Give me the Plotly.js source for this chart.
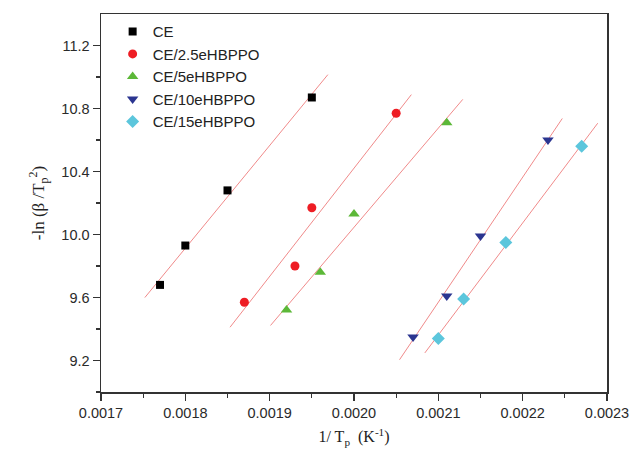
<!DOCTYPE html>
<html>
<head>
<meta charset="utf-8">
<script src="https://cdn.plot.ly/plotly-3.0.1.min.js"></script>
<style>html,body{margin:0;padding:0;background:#fff;}#chart{width:632px;height:455px;}</style>
</head>
<body>
<div id="chart"></div>
<script>
// Data
const seriesNames = ["CE", "CE/2.5eHBPPO", "CE/5eHBPPO", "CE/10eHBPPO", "CE/15eHBPPO"];
const xCE   = [0.00177, 0.00180, 0.00185, 0.00195];
const yCE   = [9.68, 9.93, 10.28, 10.87];
const xCE25 = [0.00187, 0.00193, 0.00195, 0.00205];
const yCE25 = [9.57, 9.80, 10.17, 10.77];
const xCE5  = [0.00192, 0.00196, 0.00200, 0.00211];
const yCE5  = [9.52, 9.76, 10.13, 10.71];
const xCE10 = [0.00207, 0.00211, 0.00215, 0.00223];
const yCE10 = [9.35, 9.61, 9.99, 10.60];
const xCE15 = [0.00210, 0.00213, 0.00218, 0.00227];
const yCE15 = [9.34, 9.59, 9.95, 10.56];
// x extents of the drawn linear-fit lines
const fitStart = [0.001752, 0.001853, 0.001901, 0.002054, 0.002084];
const fitEnd   = [0.001969, 0.002068, 0.002129, 0.002247, 0.002289];
const xTickVals = [0.0017, 0.0018, 0.0019, 0.0020, 0.0021, 0.0022, 0.0023];
const xTickText = ["0.0017", "0.0018", "0.0019", "0.0020", "0.0021", "0.0022", "0.0023"];
const yTickVals = [9.2, 9.6, 10.0, 10.4, 10.8, 11.2];
const yTickText = ["9.2", "9.6", "10.0", "10.4", "10.8", "11.2"];

const xs = [xCE, xCE25, xCE5, xCE10, xCE15];
const ys = [yCE, yCE25, yCE5, yCE10, yCE15];
const colors = ["#000000", "#ee1d24", "#5cb838", "#2b3590", "#5cc6dc"];
const symbols = ["square", "circle", "triangle-up", "triangle-down", "diamond"];

function fit(x, y) {
  const n = x.length;
  const mx = x.reduce((a, b) => a + b, 0) / n;
  const my = y.reduce((a, b) => a + b, 0) / n;
  let sxy = 0, sxx = 0;
  for (let i = 0; i < n; i++) { sxy += (x[i] - mx) * (y[i] - my); sxx += (x[i] - mx) ** 2; }
  const b = sxy / sxx;
  return { a: my - b * mx, b: b };
}

const traces = [];
for (let i = 0; i < 5; i++) {
  const f = fit(xs[i], ys[i]);
  const lx = [fitStart[i], fitEnd[i]];
  traces.push({
    x: lx, y: lx.map(v => f.a + f.b * v), mode: "lines", showlegend: false,
    line: { color: "#f08a8a", width: 1 }, hoverinfo: "skip"
  });
}
for (let i = 0; i < 5; i++) {
  traces.push({
    x: xs[i], y: ys[i], mode: "markers", name: seriesNames[i],
    marker: { color: colors[i], symbol: symbols[i], size: symbols[i] === "circle" ? 9 : (symbols[i] === "square" ? 8 : 10) }
  });
}

const axisCommon = {
  showgrid: false, zeroline: false, showline: true, mirror: true,
  linecolor: "#333333", linewidth: 1.5,
  ticks: "outside", ticklen: 7, tickwidth: 1.3, tickcolor: "#333333",
  tickfont: { family: "Liberation Sans, Arial, sans-serif", size: 14.5, color: "#2a2a2a" }
};

const layout = {
  width: 632, height: 455,
  margin: { l: 101, r: 25, t: 14, b: 63 },
  paper_bgcolor: "#fff", plot_bgcolor: "#fff",
  xaxis: Object.assign({}, axisCommon, {
    range: [0.0017, 0.0023], tickvals: xTickVals, ticktext: xTickText,
    minor: { tickvals: [0.00175, 0.00185, 0.00195, 0.00205, 0.00215, 0.00225], ticklen: 4, tickcolor: "#333333", ticks: "outside" },
    title: { text: "1/ T<sub>p</sub>  (K<sup>-1</sup>)", font: { family: "Liberation Serif, Times New Roman, serif", size: 16, color: "#222" }, standoff: 11 }
  }),
  yaxis: Object.assign({}, axisCommon, {
    range: [9.0, 11.4], tickvals: yTickVals, ticktext: yTickText,
    minor: { tickvals: [9.0, 9.4, 9.8, 10.2, 10.6, 11.0], ticklen: 4, tickcolor: "#333333", ticks: "outside" },
    title: { text: "-ln (β /T<sub>p</sub><sup>2</sup>)", font: { family: "Liberation Serif, Times New Roman, serif", size: 17, color: "#222" }, standoff: 12 }
  }),
  legend: {
    x: 0.023, y: 0.997, xanchor: "left", yanchor: "top",
    bgcolor: "rgba(0,0,0,0)", borderwidth: 0,
    font: { family: "Liberation Sans, Arial, sans-serif", size: 15, color: "#222" },
    tracegroupgap: 0, itemwidth: 30
  }
};

Plotly.newPlot("chart", traces, layout, { displayModeBar: false, staticPlot: true });
</script>
</body>
</html>
